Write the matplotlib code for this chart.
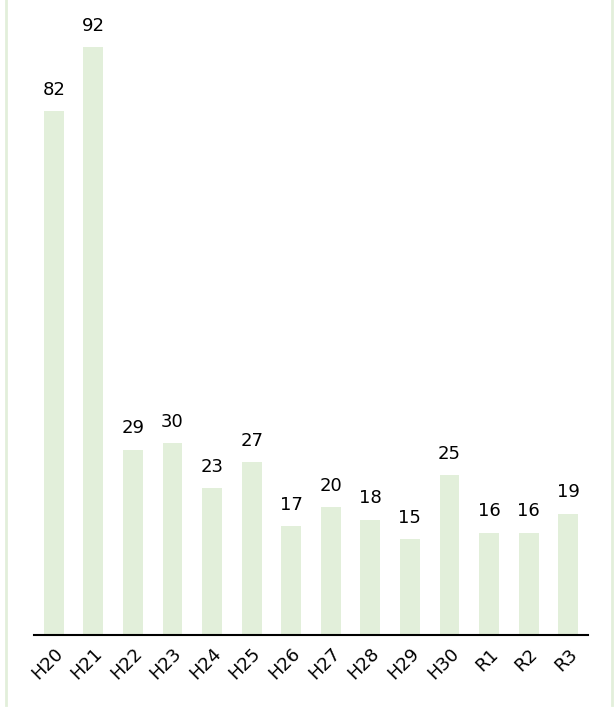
import matplotlib.pyplot as plt
from matplotlib.lines import Line2D

years = ['H20', 'H21', 'H22', 'H23', 'H24', 'H25', 'H26', 'H27',
         'H28', 'H29', 'H30', 'R1', 'R2', 'R3']
counts = [82, 92, 29, 30, 23, 27, 17, 20, 18, 15, 25, 16, 16, 19]

bar_color = '#e2efda'

fig = plt.figure(figsize=(6.14, 7.08), dpi=100)
ax = fig.add_axes([34 / 614, (708 - 635) / 708, (588 - 34) / 614, 630 / 708])

x = range(len(years))
bars = ax.bar(x, counts, width=0.5, color=bar_color)
ax.bar_label(bars, labels=[str(c) for c in counts], padding=9, fontsize=13)

ax.set_xlim(-0.5, len(years) - 0.5)
ax.set_ylim(0, 98.6)
ax.set_xticks(list(x))
ax.set_xticklabels(years, rotation=45, ha='right', rotation_mode='anchor', fontsize=13)
ax.tick_params(axis='x', length=0, pad=7)
ax.set_yticks([])
for side in ['top', 'left', 'right']:
    ax.spines[side].set_visible(False)
ax.spines['bottom'].set_linewidth(1.5)
ax.spines['bottom'].set_color('black')

# thin light green frame lines at the sides
fig.add_artist(Line2D([6 / 614, 6 / 614], [3 / 708, 1], color=bar_color, lw=2, transform=fig.transFigure))
fig.add_artist(Line2D([612 / 614, 612 / 614], [3 / 708, 1], color=bar_color, lw=2, transform=fig.transFigure))

plt.savefig('out.png', dpi=100)
